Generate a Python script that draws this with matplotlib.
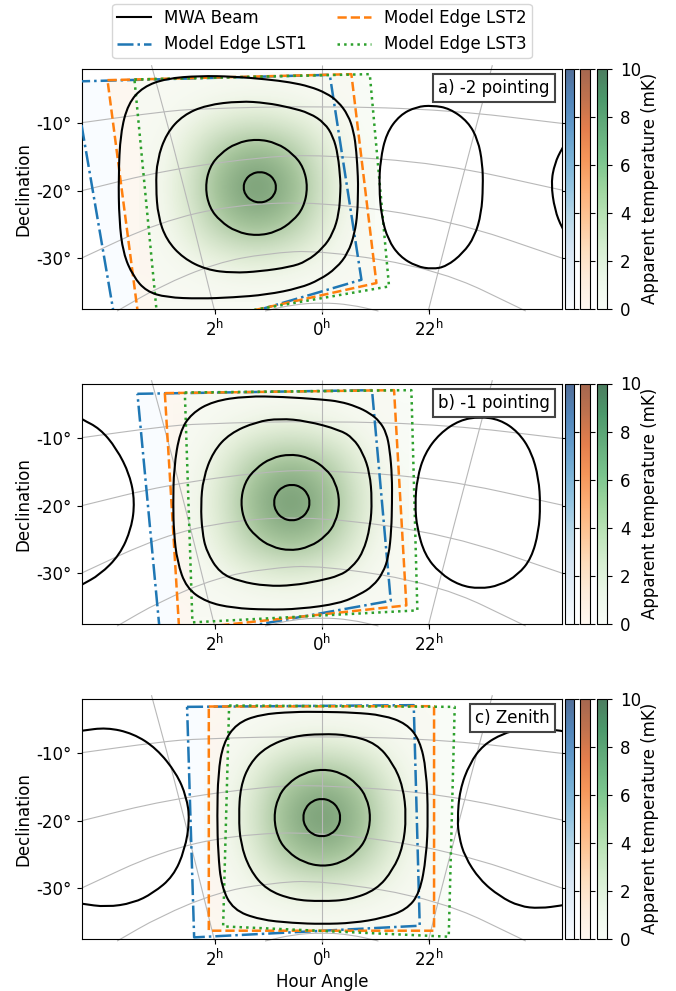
# Three MWA beam pointings with the model edges of three LSTs.
# x of every point is hour angle on the projection plane, in units of 2h,
# y is declination in degrees.

import numpy as np
import matplotlib.pyplot as plt
from matplotlib.cm import ScalarMappable
from matplotlib.colors import LinearSegmentedColormap, Normalize
from matplotlib.lines import Line2D
from matplotlib.patches import PathPatch
from matplotlib.path import Path

# Beam contours, panel a
beam_a1 = [(.735,-19.48),(.714,-18.32),(.657,-17.47),(.579,-17.16),(.501,-17.47),(.444,-18.32),(.423,-19.48),(.444,-20.64),(.501,-21.49),(.579,-21.8),(.657,-21.49),(.714,-20.64)]
beam_a2 = [(1.09,-19.5),(1.05,-16.5),(.95,-14.5),(.80,-12.9),(.61,-12.3),(.42,-12.9),(.27,-14.5),(.17,-16.5),(.13,-19.5),(.17,-22.5),(.27,-24.5),(.42,-26.1),(.61,-26.7),(.80,-26.1),(.95,-24.5),(1.05,-22.5)]
beam_a3 = [(1.551,-19.38),(1.539,-15.43),(1.452,-11.48),(1.296,-8.77),(1.078,-7.28),(.766,-6.69),(.517,-6.95),(.299,-7.63),(.112,-8.47),(-.028,-9.96),(-.106,-11.93),(-.152,-14.65),(-.175,-18.59),(-.175,-19.88),(-.162,-23.33),(-.106,-26.3),(-.012,-28.52),(.143,-30.5),(.299,-31.33),(.579,-31.97),(.829,-32.2),(1.078,-31.73),(1.296,-30.0),(1.452,-27.28),(1.53,-23.83)]
beam_a4 = [(1.90,-17.9),(1.882,-11.48),(1.81,-7.04),(1.67,-4.57),(1.452,-3.33),(1.14,-2.94),(.829,-3.04),(.517,-3.45),(.299,-3.88),(.112,-4.52),(-.044,-5.51),(-.152,-6.74),(-.246,-8.73),(-.299,-11.19),(-.324,-14.15),(-.339,-18.1),(-.339,-19.88),(-.334,-23.33),(-.308,-26.3),(-.246,-29.26),(-.137,-31.48),(.019,-33.21),(.206,-34.44),(.517,-35.43),(.829,-35.83),(1.14,-36.02),(1.452,-35.83),(1.639,-34.94),(1.763,-32.71),(1.857,-29.26),(1.894,-24.32)]
lobe_a1 = [(-.536,-19.38),(-.548,-15.43),(-.604,-11.48),(-.729,-8.77),(-.885,-7.53),(-1.034,-7.33),(-1.196,-7.78),(-1.368,-9.75),(-1.461,-12.47),(-1.502,-15.93),(-1.508,-19.38),(-1.492,-23.33),(-1.43,-26.79),(-1.321,-29.26),(-1.165,-31.23),(-1.034,-31.63),(-.885,-31.23),(-.729,-29.75),(-.62,-27.28),(-.558,-23.83)]
lobe_a2 = [(-2.318,-11.98),(-2.246,-13.7),(-2.178,-15.93),(-2.143,-18.89),(-2.178,-22.84),(-2.246,-25.55),(-2.318,-27.28)]

# Beam contours, panel b
beam_b1 = [(.451,-19.53),(.428,-18.17),(.366,-17.17),(.28,-16.81),(.195,-17.17),(.132,-18.17),(.109,-19.53),(.132,-20.89),(.195,-21.89),(.28,-22.25),(.366,-21.89),(.428,-20.89)]
beam_b2 = [(.76,-19.5),(.72,-16.5),(.62,-14.5),(.475,-12.9),(.29,-12.3),(.11,-12.9),(-.04,-14.5),(-.13,-16.5),(-.17,-19.5),(-.13,-22.5),(-.04,-24.5),(.11,-26.1),(.29,-26.7),(.475,-26.1),(.62,-24.5),(.72,-22.5)]
beam_b3 = [(1.131,-19.88),(1.109,-15.93),(1.016,-11.98),(.86,-9.26),(.611,-7.53),(.393,-7.04),(.143,-7.4),(-.168,-8.73),(-.293,-9.96),(-.386,-12.18),(-.449,-15.14),(-.47,-19.1),(-.455,-23.04),(-.386,-26.99),(-.278,-29.21),(-.168,-30.36),(.019,-31.13),(.268,-31.83),(.517,-31.92),(.766,-31.23),(.953,-30.0),(1.078,-26.79),(1.118,-23.83)]
beam_b4 = [(1.389,-19.88),(1.383,-14.44),(1.327,-9.01),(1.218,-6.3),(1.016,-4.47),(.704,-3.73),(.361,-3.83),(0,-4.22),(-.168,-4.52),(-.324,-5.26),(-.449,-6.25),(-.542,-7.48),(-.605,-9.21),(-.636,-11.69),(-.657,-15.63),(-.657,-19.59),(-.651,-23.54),(-.626,-27.48),(-.573,-29.96),(-.479,-31.93),(-.355,-33.17),(-.168,-34.5),(.206,-35.33),(.517,-35.43),(.829,-35.18),(1.078,-34.3),(1.265,-32.22),(1.352,-28.27),(1.383,-23.83)]
lobe_b1 = [(-.872,-19.88),(-.891,-15.93),(-.963,-12.22),(-1.103,-9.26),(-1.29,-7.28),(-1.477,-6.79),(-1.664,-7.19),(-1.835,-9.01),(-1.96,-11.98),(-2.028,-15.93),(-2.044,-19.88),(-2.028,-23.83),(-1.96,-27.78),(-1.835,-30.25),(-1.664,-31.83),(-1.477,-32.32),(-1.29,-31.83),(-1.103,-30.0),(-.963,-27.28),(-.891,-23.33)]
lobe_b2 = [(2.293,-6.54),(2.246,-7.14),(2.075,-8.52),(1.919,-11.48),(1.794,-15.43),(1.748,-19.38),(1.779,-23.33),(1.888,-27.28),(2.075,-30.25),(2.246,-31.73),(2.293,-32.22)]

# Beam contours, panel c
beam_c1 = [(.178,-19.53),(.154,-18.1),(.089,-17.05),(0,-16.67),(-.089,-17.05),(-.154,-18.1),(-.178,-19.53),(-.154,-20.96),(-.089,-22.01),(0,-22.39),(.089,-22.01),(.154,-20.96)]
beam_c2 = [(.45,-19.5),(.41,-16.5),(.32,-14.5),(.17,-12.9),(-.01,-12.3),(-.19,-12.9),(-.33,-14.5),(-.42,-16.5),(-.46,-19.5),(-.42,-22.6),(-.33,-24.6),(-.19,-26.2),(-.01,-26.8),(.17,-26.2),(.32,-24.6),(.41,-22.6)]
beam_c3 = [(.776,-19.38),(.76,-14.94),(.673,-11.48),(.517,-9.01),(.268,-7.43),(0,-7.09),(-.262,-7.28),(-.511,-8.52),(-.667,-11.48),(-.76,-14.94),(-.791,-19.38),(-.76,-23.83),(-.667,-27.28),(-.511,-30.25),(-.262,-31.73),(0,-31.97),(.268,-31.73),(.517,-30.25),(.673,-27.28),(.76,-23.33)]
beam_c4 = [(.978,-19.38),(.969,-12.96),(.922,-8.52),(.798,-5.56),(.579,-4.22),(.268,-3.83),(0,-3.83),(-.293,-3.93),(-.573,-4.32),(-.791,-5.56),(-.916,-8.02),(-.978,-12.47),(-.994,-19.38),(-.978,-25.31),(-.916,-30.74),(-.791,-33.21),(-.573,-34.44),(-.293,-35.18),(0,-35.33),(.268,-35.18),(.579,-34.69),(.829,-33.21),(.938,-29.75),(.969,-24.81)]
lobe_c1 = [(2.308,-6.79),(2.246,-6.64),(2.012,-6.15),(1.763,-7.04),(1.545,-9.26),(1.358,-12.96),(1.265,-16.42),(1.234,-19.88),(1.28,-24.32),(1.389,-28.27),(1.576,-30.74),(1.763,-32.22),(2.012,-32.81),(2.246,-32.32),(2.308,-32.07)]
lobe_c2 = [(-2.318,-6.94),(-2.246,-6.64),(-2.037,-6.3),(-1.85,-6.44),(-1.695,-7.04),(-1.508,-8.77),(-1.383,-11.48),(-1.29,-15.43),(-1.268,-19.88),(-1.283,-22.35),(-1.336,-25.31),(-1.477,-28.76),(-1.664,-31.23),(-1.85,-32.71),(-2.037,-33.01),(-2.246,-32.57),(-2.318,-32.32)]

# Model edges (four corners), one set per panel
edge_a_lst1 = [(2.315,-3.78),(-.075,-2.79),(-.371,-33.21),(1.885,-43.73)]
edge_a_lst2 = [(2.003,-3.58),(-.277,-2.69),(-.511,-33.7),(1.692,-41.46)]
edge_a_lst3 = [(1.751,-3.48),(-.449,-2.69),(-.629,-34.2),(1.530,-40.17)]
edge_b_lst1 = [(1.723,-3.38),(-.470,-2.84),(-.645,-34.1),(1.505,-40.22)]
edge_b_lst2 = [(1.467,-3.28),(-.676,-2.84),(-.791,-34.79),(1.333,-38.39)]
edge_b_lst3 = [(1.280,-3.19),(-.838,-2.84),(-.894,-35.53),(1.209,-37.31)]
edge_c_lst1 = [(1.259,-3.09),(-.860,-2.84),(-.916,-35.58),(1.193,-37.31)]
edge_c_lst2 = [(1.056,-3.04),(-1.050,-2.99),(-1.050,-36.32),(1.056,-36.32)]
edge_c_lst3 = [(.866,-2.89),(-1.243,-3.09),(-1.187,-37.21),(.922,-35.68)]

# Grid of the sky coordinates
grid_dec10 = [(2.246,-9.9),(1.514,-8.3),(1.14,-7.8),(0,-7.4),(-1.196,-8.0),(-2.246,-10.0)]
grid_dec20 = [(2.246,-20.0),(1.452,-16.9),(.517,-14.9),(0,-14.7),(-1.103,-15.9),(-2.246,-19.9)]
grid_dec30 = [(2.246,-30.0),(1.514,-24.6),(.829,-22.1),(0,-21.6),(-1.196,-24.3),(-2.246,-30.0)]
grid_dec40 = [(1.913,-37.85),(1.514,-34.2),(.984,-30.7),(.517,-29.3),(0,-28.8),(-1.103,-31.7),(-1.907,-37.85)]
grid_dec50 = [(.53,-37.85),(.27,-36.9),(0,-36.6),(-.27,-36.9),(-.53,-37.85)]
grid_ra2 = [(1.592,-1.36),(1.327,-16.9),(1.0,-37.95)]
grid_ra0 = [(0,-1.36),(0,-37.95)]
grid_ra22 = [(-1.595,-1.36),(-1.212,-24.3),(-.994,-37.95)]

# Mean apparent temperature (mK) around the beam centre
temp_map = np.array([
    [0.0, 0.1, 0.1, 0.2, 0.3, 0.3, 0.3, 0.2, 0.1, 0.1, 0.0],
    [0.1, 0.2, 0.5, 0.8, 1.0, 1.1, 1.0, 0.8, 0.5, 0.2, 0.1],
    [0.1, 0.5, 1.1, 1.7, 2.2, 2.4, 2.2, 1.7, 1.1, 0.5, 0.1],
    [0.2, 0.8, 1.7, 3.0, 4.0, 4.5, 4.0, 3.0, 1.7, 0.8, 0.2],
    [0.3, 1.0, 2.2, 4.0, 5.6, 6.3, 5.6, 4.0, 2.2, 1.0, 0.3],
    [0.3, 1.1, 2.4, 4.5, 6.3, 7.2, 6.3, 4.5, 2.4, 1.1, 0.3],
    [0.3, 1.0, 2.2, 4.0, 5.6, 6.3, 5.6, 4.0, 2.2, 1.0, 0.3],
    [0.2, 0.8, 1.7, 3.0, 4.0, 4.5, 4.0, 3.0, 1.7, 0.8, 0.2],
    [0.1, 0.5, 1.1, 1.7, 2.2, 2.4, 2.2, 1.7, 1.1, 0.5, 0.1],
    [0.1, 0.2, 0.5, 0.8, 1.0, 1.1, 1.0, 0.8, 0.5, 0.2, 0.1],
    [0.0, 0.1, 0.1, 0.2, 0.3, 0.3, 0.3, 0.2, 0.1, 0.1, 0.0],
])
map_centres = [.61, .29, 0.0]

panel_titles = ['a) -2 pointing', 'b) -1 pointing', 'c) Zenith']
x_ticks = [1, 0, -1]
x_labels = ['2$^{\\mathrm{h}}$', '0$^{\\mathrm{h}}$', '22$^{\\mathrm{h}}$']
y_ticks = [-10, -20, -30]
y_labels = ['-10°', '-20°', '-30°']
cbar_ticks = [0, 2, 4, 6, 8, 10]

closed_beams = [[beam_a1, beam_a2, beam_a3, beam_a4, lobe_a1],
                [beam_b1, beam_b2, beam_b3, beam_b4, lobe_b1],
                [beam_c1, beam_c2, beam_c3, beam_c4]]
open_beams = [[lobe_a2], [lobe_b2], [lobe_c1, lobe_c2]]
edges = [[edge_a_lst1, edge_a_lst2, edge_a_lst3],
         [edge_b_lst1, edge_b_lst2, edge_b_lst3],
         [edge_c_lst1, edge_c_lst2, edge_c_lst3]]
grid_lines = [grid_dec10, grid_dec20, grid_dec30, grid_dec40, grid_dec50,
              grid_ra2, grid_ra0, grid_ra22]

W, H = 676, 991
plt.rcParams['font.size'] = 12


def px_axes(fig, left, right, top, bottom):
    return fig.add_axes([left / W, 1 - bottom / H, (right - left) / W, (bottom - top) / H])


def smooth_path(points, closed=True):
    # read points as quadratic control points, so the contours come out round
    p = np.array(points, dtype=float)
    if closed:
        mid = (p + np.roll(p, -1, axis=0)) / 2
        verts = [mid[-1]]
        codes = [Path.MOVETO]
        for i in range(len(p)):
            verts += [p[i], mid[i]]
            codes += [Path.CURVE3, Path.CURVE3]
    else:
        mid = (p[:-1] + p[1:]) / 2
        verts = [p[0], mid[0]]
        codes = [Path.MOVETO, Path.LINETO]
        for i in range(1, len(p) - 1):
            verts += [p[i], mid[i]]
            codes += [Path.CURVE3, Path.CURVE3]
        verts.append(p[-1])
        codes.append(Path.LINETO)
    return Path(verts, codes)


# The map is speckled in the reference, this is its average colour per level.
# Transparent at zero, so the map has no visible border.
map_cmap = LinearSegmentedColormap.from_list('map_mean', [
    (0.0, (0.95, 0.97, 0.92, 0.0)),
    (0.14, (0.90, 0.94, 0.86, 1.0)),
    (0.45, (0.65, 0.77, 0.61, 1.0)),
    (0.72, (0.47, 0.62, 0.46, 1.0)),
    (1.0, (0.30, 0.45, 0.32, 1.0)),
])

fig = plt.figure(figsize=(W / 100, H / 100), dpi=100)
norm = Normalize(0, 10)
fills = ['#f7fbff', '#fff5eb', '#f7fcf5']
line_cols = ['tab:blue', 'tab:orange', 'tab:green']
line_styles = ['-.', '--', ':']
tops = [68.5, 383.5, 698.5]

for n, top in enumerate(tops):
    bottom = top + 240.5
    ax = px_axes(fig, 81.5, 562, top, bottom)

    for edge, fc in zip(edges[n], fills):
        xy = np.array(edge)
        ax.fill(xy[:, 0], xy[:, 1], color=fc, alpha=0.7, lw=0, zorder=1)

    cx = map_centres[n]
    ax.imshow(temp_map, cmap=map_cmap, norm=norm, interpolation='bicubic', aspect='auto',
              extent=[cx + 1.1, cx - 1.1, -36.5, -2.5], zorder=1.5)

    for line in grid_lines:
        ax.add_patch(PathPatch(smooth_path(line, closed=False), fc='none', ec='#b8b8b8',
                               lw=0.8, clip_on=False, zorder=2))

    for edge, col, ls in zip(edges[n], line_cols, line_styles):
        xy = np.array(edge + edge[:1])
        ax.plot(xy[:, 0], xy[:, 1], color=col, ls=ls, lw=1.8, zorder=3)

    for c in closed_beams[n]:
        ax.add_patch(PathPatch(smooth_path(c), fc='none', ec='k', lw=1.5, zorder=4))
    for c in open_beams[n]:
        ax.add_patch(PathPatch(smooth_path(c, closed=False), fc='none', ec='k', lw=1.5, zorder=4))

    ax.set_xlim(2.246, -2.246)
    ax.set_ylim(-37.55, -1.85)
    ax.set_xticks(x_ticks)
    ax.set_xticklabels(x_labels)
    ax.set_yticks(y_ticks)
    ax.set_yticklabels(y_labels)
    ax.tick_params(right=True)
    ax.set_ylabel('Declination', labelpad=3)
    if n == 2:
        ax.set_xlabel('Hour Angle', labelpad=2)
    ax.text(0.975, 0.919, panel_titles[n], transform=ax.transAxes, ha='right', va='center',
            zorder=6, bbox=dict(boxstyle='square,pad=0.3', fc='white', ec='#444444', lw=1.5))

    # one colour bar per LST, only the last one has labels
    for (l, r), cmap in zip([(565, 574.3), (579.7, 589.7), (596.7, 606.7)],
                            ['Blues', 'Oranges', 'Greens']):
        cax = px_axes(fig, l, r, top, bottom)
        cb = fig.colorbar(ScalarMappable(norm=norm, cmap=cmap), cax=cax, alpha=0.7,
                          ticks=cbar_ticks)
        if cmap == 'Greens':
            cax.tick_params(pad=6)
            cb.set_label('Apparent temperature (mK)', labelpad=0)
        else:
            cax.tick_params(labelright=False)

handles = [Line2D([], [], color='k', lw=1.5)]
handles += [Line2D([], [], color=c, ls=s, lw=1.8) for c, s in zip(line_cols, line_styles)]
labels = ['MWA Beam', 'Model Edge LST1', 'Model Edge LST2', 'Model Edge LST3']
fig.legend(handles, labels, ncol=2, loc='upper center', borderaxespad=0, borderpad=0.3,
           columnspacing=1.85, bbox_to_anchor=(322 / W, 1 - 4 / H))

fig.savefig('out.png', dpi=100)
